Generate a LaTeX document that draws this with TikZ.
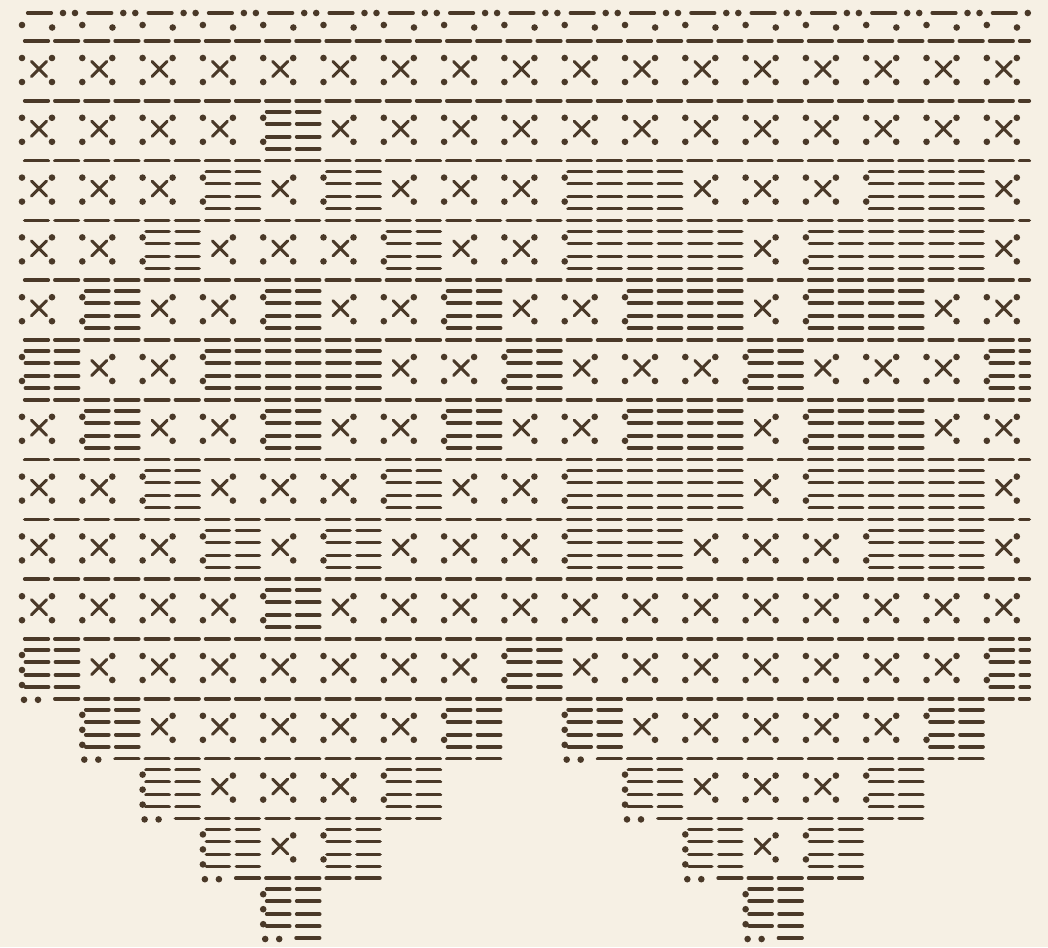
\documentclass[tikz,border=0pt]{standalone}
\definecolor{ink}{RGB}{74,57,40}
\definecolor{paper}{RGB}{246,240,228}
\tikzset{
  dsh/.style={draw=ink, line width=3.7pt, line cap=round},
  xs/.style={draw=ink, line width=3pt, line cap=round},
}
\newcommand\rdot[2]{\fill[ink] (#1,#2) circle (3.3);}
\newcommand\cellN[2]{}
\newcommand\cellY[2]{%
  \pgfmathsetmacro\cL{22+60.3*#1}%
  \rdot{\cL+30}{#2+17}\rdot{\cL+30}{#2+41}%
  \draw[xs] (\cL+9.5,#2+20.5) -- (\cL+24.5,#2+35.5) (\cL+9.5,#2+35.5) -- (\cL+24.5,#2+20.5);}
\newcommand\cellX[2]{%
  \pgfmathsetmacro\cL{22+60.3*#1}%
  \rdot{\cL}{#2+17}\rdot{\cL}{#2+41}%
  \cellY{#1}{#2}}
\newcommand\cellC[2]{%
  \pgfmathsetmacro\cL{22+60.3*#1}%
  \pgfmathsetmacro\cE{min(\cL+56.5,1029.25)}%
  \foreach \dy in {11,23,36,48}{%
    \draw[dsh] (\cL+3.5,#2+\dy) -- (\cL+26.5,#2+\dy) (\cL+33.5,#2+\dy) -- (\cE,#2+\dy);}}
\newcommand\cellB[2]{\cellC{#1}{#2}\pgfmathsetmacro\cL{22+60.3*#1}\rdot{\cL}{#2+17}\rdot{\cL}{#2+41}}
\newcommand\cellD[2]{\cellC{#1}{#2}\pgfmathsetmacro\cL{22+60.3*#1}\rdot{\cL}{#2+16}\rdot{\cL}{#2+31}\rdot{\cL}{#2+46}}
\newcommand\chartrow[2]{%
  \pgfmathsetmacro\rT{41+59.8*(#1-1)}%
  \foreach \cc [count=\kk from 0] in {#2}{\csname cell\cc\endcsname{\kk}{\rT}}}
\newcommand\sepdash[2]{%
  \pgfmathsetmacro\sT{41+59.8*(#1-1)}%
  \pgfmathsetmacro\sB{22+30.15*#2}%
  \pgfmathsetmacro\sE{min(\sB+26.25,1029.25)}%
  \draw[dsh] (\sB+2.75,\sT) -- (\sE,\sT);}
\newcommand\sepline[3]{%
  \foreach \jj in {#2,...,#3}{\sepdash{#1}{\jj}}}
\newcommand\sepdots[2]{%
  \pgfmathsetmacro\sT{41+59.8*(#1-1)}%
  \pgfmathsetmacro\sL{22+60.3*#2}%
  \rdot{\sL+2}{\sT+1}\rdot{\sL+16}{\sT+1}}
\begin{document}
\begin{tikzpicture}[x=1pt,y=-1pt]
\fill[paper] (0,0) rectangle (1048,947);
\useasboundingbox (0,0) rectangle (1048,947);
% top border
\foreach \kk in {0,...,16}{%
  \pgfmathsetmacro\tL{22+60.3*\kk}%
  \pgfmathsetmacro\tE{min(\tL+29.25,1029.25)}%
  \draw[dsh] (\tL+5.75,13) -- (\tE,13);
  \rdot{\tL+41}{13}
  \ifnum\kk<16 \rdot{\tL+53}{13}\fi
}
% dot row
\foreach \jj in {0,...,33}{%
  \pgfmathsetmacro\dX{22+30.15*\jj}%
  \pgfmathsetmacro\dY{25+2.5*mod(\jj,2)}%
  \rdot{\dX}{\dY}
}
% separators
\foreach \rr in {1,...,11}{\sepline{\rr}{0}{33}}
\sepdots{12}{0}\sepline{12}{1}{33}
\sepdots{13}{1}\sepline{13}{3}{15}
\sepdots{13}{9}\sepline{13}{19}{31}
\sepdots{14}{2}\sepline{14}{5}{13}
\sepdots{14}{10}\sepline{14}{21}{29}
\sepdots{15}{3}\sepline{15}{7}{11}
\sepdots{15}{11}\sepline{15}{23}{27}
\sepdots{16}{4}\sepdash{16}{9}
\sepdots{16}{12}\sepdash{16}{25}
% rows
\chartrow{1}{X,X,X,X,X,X,X,X,X,X,X,X,X,X,X,X,X}
\chartrow{2}{X,X,X,X,B,Y,X,X,X,X,X,X,X,X,X,X,X}
\chartrow{3}{X,X,X,B,Y,B,Y,X,X,B,C,Y,X,X,B,C,Y}
\chartrow{4}{X,X,B,Y,X,X,B,Y,X,B,C,C,Y,B,C,C,Y}
\chartrow{5}{X,B,Y,X,B,Y,X,B,Y,X,B,C,Y,B,C,Y,X}
\chartrow{6}{B,Y,X,B,C,C,Y,X,B,Y,X,X,B,Y,X,X,B}
\chartrow{7}{X,B,Y,X,B,Y,X,B,Y,X,B,C,Y,B,C,Y,X}
\chartrow{8}{X,X,B,Y,X,X,B,Y,X,B,C,C,Y,B,C,C,Y}
\chartrow{9}{X,X,X,B,Y,B,Y,X,X,B,C,Y,X,X,B,C,Y}
\chartrow{10}{X,X,X,X,B,Y,X,X,X,X,X,X,X,X,X,X,X}
\chartrow{11}{D,Y,X,X,X,X,X,X,B,Y,X,X,X,X,X,X,B}
\chartrow{12}{N,D,Y,X,X,X,X,B,N,D,Y,X,X,X,X,B,N}
\chartrow{13}{N,N,D,Y,X,X,B,N,N,N,D,Y,X,X,B,N,N}
\chartrow{14}{N,N,N,D,Y,B,N,N,N,N,N,D,Y,B,N,N,N}
\chartrow{15}{N,N,N,N,D,N,N,N,N,N,N,N,D,N,N,N,N}
\end{tikzpicture}
\end{document}
